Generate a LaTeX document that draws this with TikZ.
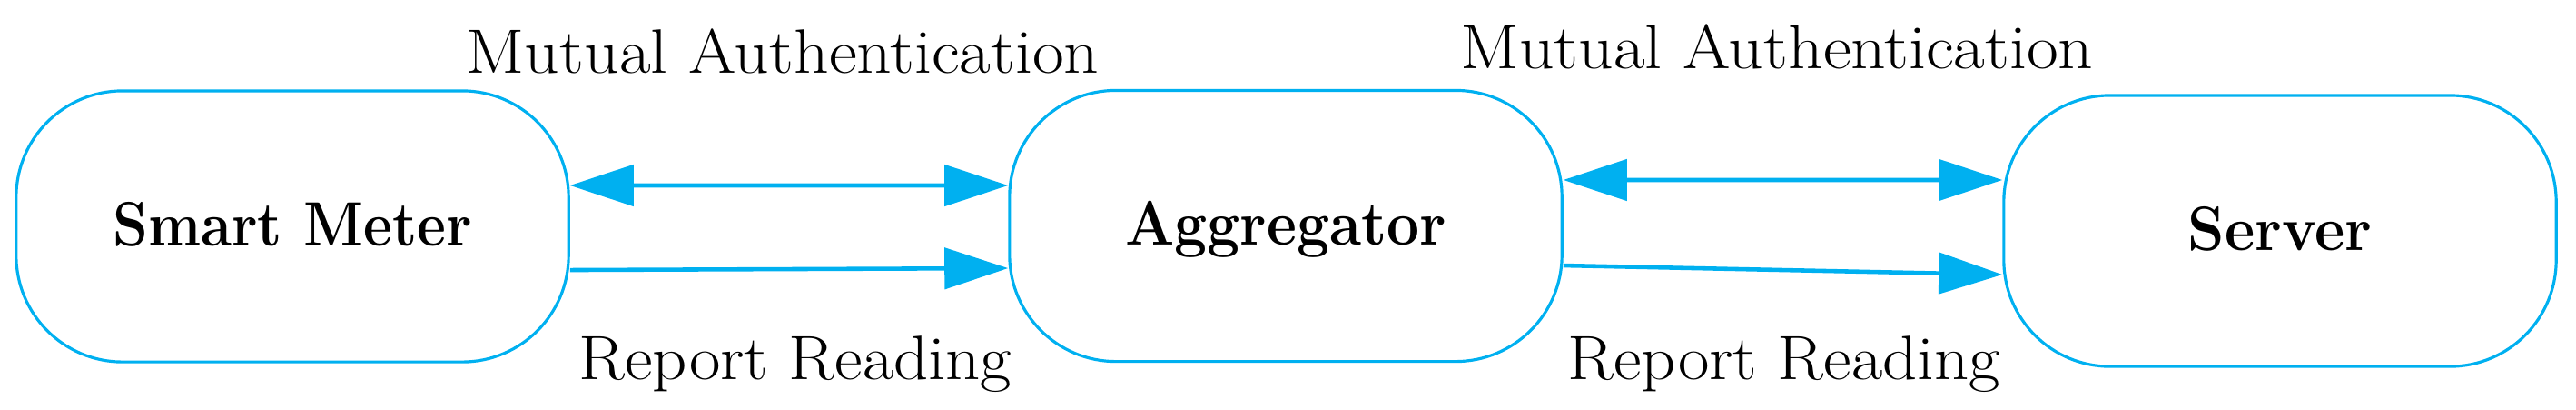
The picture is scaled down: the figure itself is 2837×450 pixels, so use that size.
\documentclass[tikz,border=0pt]{standalone}
\usetikzlibrary{arrows.meta}
\definecolor{boxblue}{HTML}{00B0F0}
\begin{document}
\begin{tikzpicture}[x=0.01cm,y=-0.01cm,
  font=\fontsize{19.6pt}{24pt}\selectfont,
  entity/.style={draw=boxblue, line width=0.9pt, rounded corners=1.17cm,
    minimum width=6.08cm, minimum height=2.98cm, inner sep=0pt,
    text height=0.47cm, text depth=0.05cm},
  flow/.style={draw=boxblue, line width=1.3pt,
    -{Triangle[length=0.7cm,width=0.45cm]}},
  biflow/.style={draw=boxblue, line width=1.3pt,
    {Triangle[length=0.7cm,width=0.45cm]}-{Triangle[length=0.7cm,width=0.45cm]}},
  lbl/.style={anchor=base west, inner sep=0pt}]
\useasboundingbox (0,0) rectangle (2837,450);
\node[entity] (sm) at (322,249) {\scalebox{0.90}[1]{\bfseries Smart Meter}};
\node[entity] (agg) at (1416,248.5) {\scalebox{0.93}[1]{\bfseries Aggregator}};
\node[entity] (srv) at (2511,254) {\scalebox{0.94}[1]{\bfseries Server}};
\draw[biflow] ([yshift=0.45cm]sm.east) -- ([yshift=0.445cm]agg.west);
\draw[flow] ([yshift=-0.48cm]sm.east) -- ([yshift=-0.465cm]agg.west);
\draw[biflow] ([yshift=0.505cm]agg.east) -- ([yshift=0.56cm]srv.west);
\draw[flow] ([yshift=-0.435cm]agg.east) -- ([yshift=-0.48cm]srv.west);
\node[lbl] (ma1) at (513,80) {\scalebox{1.097}[1]{Mutual Authentication}};
\node[lbl] (ma2) at (1608,75) {\scalebox{1.097}[1]{Mutual Authentication}};
\node[lbl] (rr1) at (637,417) {\scalebox{1.085}[1]{Report Reading}};
\node[lbl] (rr2) at (1726,417) {\scalebox{1.085}[1]{Report Reading}};
\end{tikzpicture}
\end{document}
